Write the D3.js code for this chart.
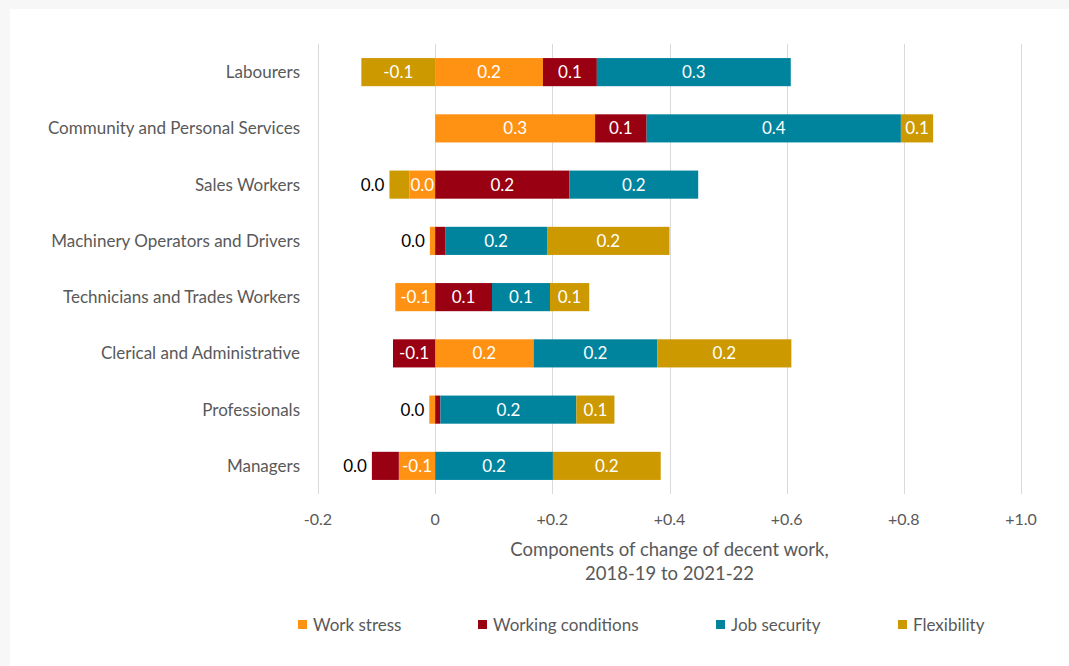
<!DOCTYPE html>
<html>
<head>
<meta charset="utf-8">
<script src="https://cdn.jsdelivr.net/npm/d3@7"></script>
<style>
	body { margin: 0; background: #f7f7f7; }
	svg { display: block; font-family: Lato, "Open Sans", sans-serif; }
	.cat-label, .tick-label, .axis-title, .legend-label { fill: #595959; }
</style>
</head>
<body>
<svg width="1069" height="666"></svg>
<script>
// occupations, top to bottom
const categories = [
	"Labourers",
	"Community and Personal Services",
	"Sales Workers",
	"Machinery Operators and Drivers",
	"Technicians and Trades Workers",
	"Clerical and Administrative",
	"Professionals",
	"Managers"
];

const seriesNames = ["Work stress", "Working conditions", "Job security", "Flexibility"];

// components per occupation (same order as categories)
const workStress        = [0.184, 0.273, -0.044, -0.009, -0.068, 0.168, -0.010, -0.062];
const workingConditions = [0.092, 0.088, 0.229, 0.017, 0.097, -0.072, 0.009, -0.046];
const jobSecurity       = [0.331, 0.434, 0.220, 0.174, 0.099, 0.211, 0.232, 0.201];
const flexibility       = [-0.126, 0.055, -0.034, 0.209, 0.067, 0.229, 0.065, 0.184];

const tickValues = [-0.2, 0, 0.2, 0.4, 0.6, 0.8, 1.0];
const tickLabels = ["-0.2", "0", "+0.2", "+0.4", "+0.6", "+0.8", "+1.0"];

const colours = ["#ff9213", "#990012", "#00849e", "#cc9900"];

const svg = d3.select("svg");

svg.append("rect")
	.attr("x", 10).attr("y", 9)
	.attr("width", 1069).attr("height", 666)
	.attr("fill", "#ffffff");

const margin = {top: 44, left: 318, right: 48, bottom: 172};
const width = 1069 - margin.left - margin.right;
const height = 666 - margin.top - margin.bottom;

const x = d3.scaleLinear().domain([-0.2, 1.0]).range([0, width]);
const y = d3.scaleBand().domain(categories).range([0, height]).paddingInner(0.5).paddingOuter(0.25);

const g = svg.append("g")
	.attr("transform", `translate(${margin.left},${margin.top})`);

// gridlines
g.append("g")
	.selectAll("line")
	.data(tickValues)
	.join("line")
	.attr("x1", d => Math.round(x(d)) + 0.5)
	.attr("x2", d => Math.round(x(d)) + 0.5)
	.attr("y1", 0)
	.attr("y2", height)
	.attr("stroke", "#d9d9d9")
	.attr("stroke-width", 1);

// tick labels
g.append("g")
	.selectAll("text")
	.data(tickValues)
	.join("text")
	.attr("class", "tick-label")
	.attr("x", d => x(d))
	.attr("y", height + 31)
	.attr("text-anchor", "middle")
	.style("font-size", "16px")
	.text((d, i) => tickLabels[i]);

const rows = categories.map((c, i) => ({
	cat: c,
	"Work stress": workStress[i],
	"Working conditions": workingConditions[i],
	"Job security": jobSecurity[i],
	"Flexibility": flexibility[i]
}));

const stacked = d3.stack()
	.keys(seriesNames)
	.offset(d3.stackOffsetDiverging)(rows);

const layers = g.append("g")
	.selectAll("g")
	.data(stacked)
	.join("g")
	.attr("fill", (d, i) => colours[i]);

layers.selectAll("rect")
	.data(d => d)
	.join("rect")
	.attr("x", d => x(Math.min(d[0], d[1])))
	.attr("width", d => Math.abs(x(d[1]) - x(d[0])))
	.attr("y", d => y(d.data.cat))
	.attr("height", y.bandwidth());

const fmt = v => (Math.round(v * 10) / 10).toFixed(1);

// labels: inside when wide enough, outermost narrow negatives go outside to the left
const labels = [];
stacked.forEach((layer, si) => {
	layer.forEach((d, ci) => {
		const v = d.data[layer.key];
		const x0 = x(Math.min(d[0], d[1]));
		const x1 = x(Math.max(d[0], d[1]));
		const w = x1 - x0;
		const yc = y(d.data.cat) + y.bandwidth() / 2;
		const minNeg = d3.min(stacked, l => Math.min(l[ci][0], l[ci][1]));
		const outermost = v < 0 && Math.abs(Math.min(d[0], d[1]) - minNeg) < 1e-9;
		if (outermost && w < 30)
			labels.push({x: x0 - 5, y: yc, t: fmt(v), anchor: "end", fill: "#000000"});
		else if (w >= 15)
			labels.push({x: (x0 + x1) / 2, y: yc, t: fmt(v), anchor: "middle", fill: "#ffffff"});
	});
});

g.append("g")
	.selectAll("text")
	.data(labels)
	.join("text")
	.attr("x", d => d.x)
	.attr("y", d => d.y)
	.attr("dy", "0.35em")
	.attr("text-anchor", d => d.anchor)
	.attr("fill", d => d.fill)
	.style("font-size", "17px")
	.text(d => d.t);

// category labels
g.append("g")
	.selectAll("text")
	.data(categories)
	.join("text")
	.attr("class", "cat-label")
	.attr("x", -18)
	.attr("y", d => y(d) + y.bandwidth() / 2)
	.attr("dy", "0.35em")
	.attr("text-anchor", "end")
	.style("font-size", "17px")
	.text(d => d);

// axis title
const title = g.append("text")
	.attr("class", "axis-title")
	.attr("text-anchor", "middle")
	.style("font-size", "18.5px");
title.append("tspan").attr("x", width / 2).attr("y", height + 62).text("Components of change of decent work,");
title.append("tspan").attr("x", width / 2).attr("y", height + 86).text("2018-19 to 2021-22");

// legend
const legendX = [298, 478, 716, 898];
const legend = svg.append("g")
	.selectAll("g")
	.data(seriesNames)
	.join("g")
	.attr("transform", (d, i) => `translate(${legendX[i]},620)`);

legend.append("rect")
	.attr("width", 9).attr("height", 9)
	.attr("fill", (d, i) => colours[i]);

legend.append("text")
	.attr("class", "legend-label")
	.attr("x", 15)
	.attr("y", 5)
	.attr("dy", "0.35em")
	.style("font-size", "17px")
	.text(d => d);
</script>
</body>
</html>
